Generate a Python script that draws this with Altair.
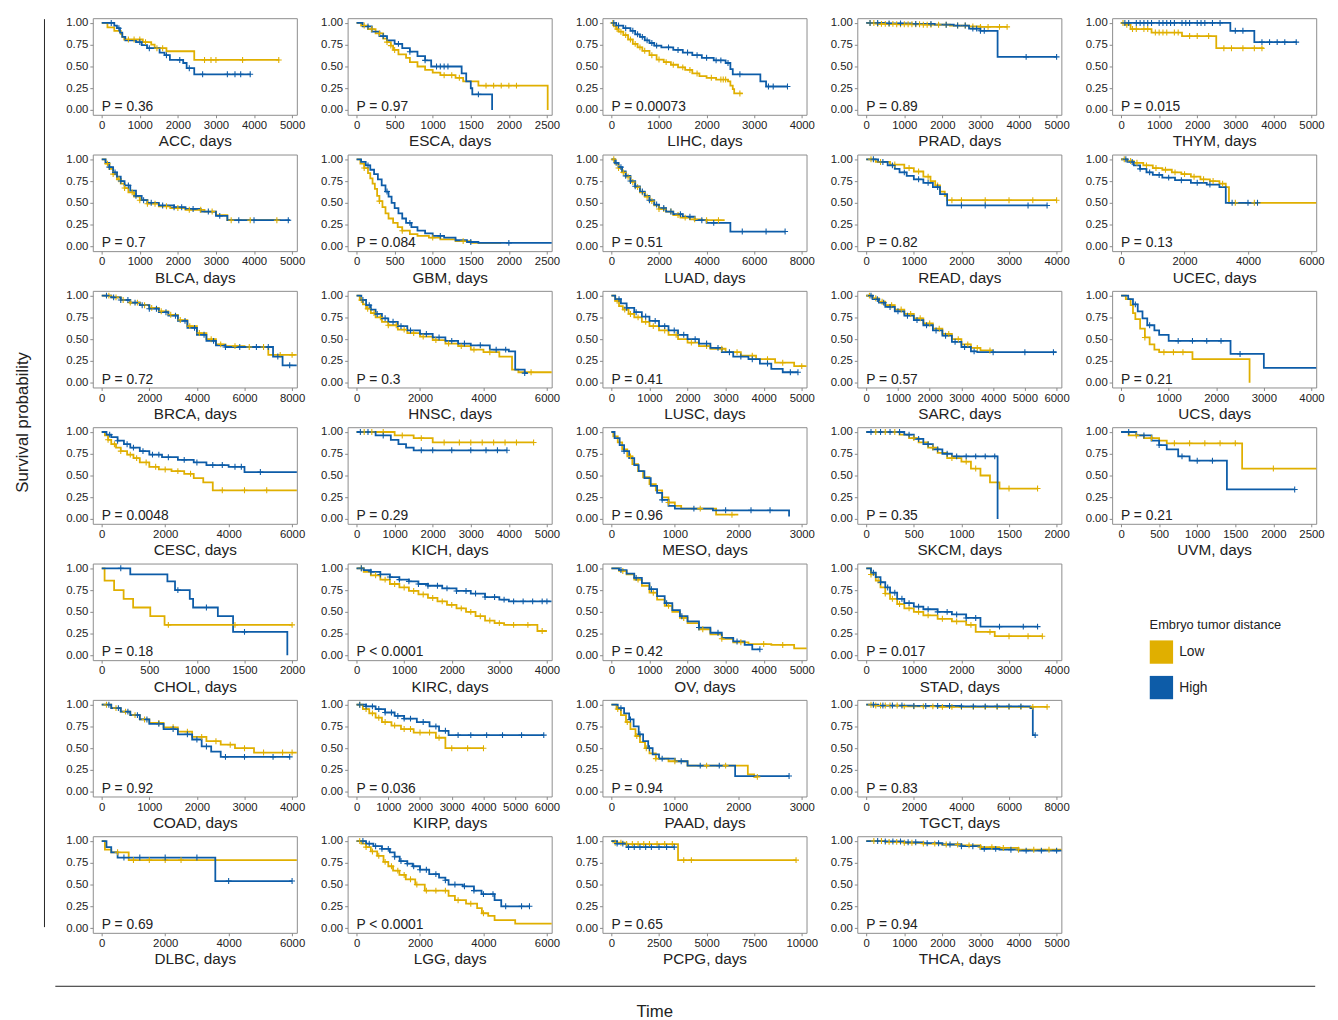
import altair as alt
import pandas as pd

LOW_COLOR = "#E0AF00"
HIGH_COLOR = "#0D5CA8"
GROUPS = ["Low", "High"]
FONT = "Liberation Sans"

# ---- layout of the grid (None = empty slot) ----
GRID = [
    ["ACC", "ESCA", "LIHC", "PRAD", "THYM"],
    ["BLCA", "GBM", "LUAD", "READ", "UCEC"],
    ["BRCA", "HNSC", "LUSC", "SARC", "UCS"],
    ["CESC", "KICH", "MESO", "SKCM", "UVM"],
    ["CHOL", "KIRC", "OV", "STAD", None],
    ["COAD", "KIRP", "PAAD", "TGCT", None],
    ["DLBC", "LGG", "PCPG", "THCA"],
]

P_TEXT = {
    "ACC": "P = 0.36", "ESCA": "P = 0.97", "LIHC": "P = 0.00073", "PRAD": "P = 0.89", "THYM": "P = 0.015",
    "BLCA": "P = 0.7", "GBM": "P = 0.084", "LUAD": "P = 0.51", "READ": "P = 0.82", "UCEC": "P = 0.13",
    "BRCA": "P = 0.72", "HNSC": "P = 0.3", "LUSC": "P = 0.41", "SARC": "P = 0.57", "UCS": "P = 0.21",
    "CESC": "P = 0.0048", "KICH": "P = 0.29", "MESO": "P = 0.96", "SKCM": "P = 0.35", "UVM": "P = 0.21",
    "CHOL": "P = 0.18", "KIRC": "P < 0.0001", "OV": "P = 0.42", "STAD": "P = 0.017",
    "COAD": "P = 0.92", "KIRP": "P = 0.036", "PAAD": "P = 0.94", "TGCT": "P = 0.83",
    "DLBC": "P = 0.69", "LGG": "P < 0.0001", "PCPG": "P = 0.65", "THCA": "P = 0.94",
}

# (last tick, tick step) for each x axis
X_TICKS = {
    "ACC": (5000, 1000), "ESCA": (2500, 500), "LIHC": (4000, 1000), "PRAD": (5000, 1000), "THYM": (5000, 1000),
    "BLCA": (5000, 1000), "GBM": (2500, 500), "LUAD": (8000, 2000), "READ": (4000, 1000), "UCEC": (6000, 2000),
    "BRCA": (8000, 2000), "HNSC": (6000, 2000), "LUSC": (5000, 1000), "SARC": (6000, 1000), "UCS": (4000, 1000),
    "CESC": (6000, 2000), "KICH": (5000, 1000), "MESO": (3000, 1000), "SKCM": (2000, 500), "UVM": (2500, 500),
    "CHOL": (2000, 500), "KIRC": (4000, 1000), "OV": (5000, 1000), "STAD": (4000, 1000),
    "COAD": (4000, 1000), "KIRP": (6000, 1000), "PAAD": (3000, 1000), "TGCT": (8000, 2000),
    "DLBC": (6000, 2000), "LGG": (6000, 2000), "PCPG": (10000, 2500), "THCA": (5000, 1000),
}
Y_TICKS = [0, 0.25, 0.5, 0.75, 1.0]

# ---- Kaplan-Meier step curves: (time, survival) ; censor times ----
ACC_LOW = [(0,1),(150,0.95),(330,0.91),(500,0.875),(540,0.84),(590,0.81),(1080,0.78),(1300,0.75),(1390,0.71),(1700,0.675),(2430,0.575),(4660,0.575)]
ACC_HIGH = [(0,1),(330,0.97),(400,0.94),(480,0.89),(540,0.84),(620,0.80),(900,0.78),(1050,0.745),(1190,0.71),(1520,0.66),(1650,0.63),(1790,0.575),(2140,0.54),(2230,0.48),(2430,0.41),(3910,0.41)]
ACC_LOW_C = [700,850,1000,1150,1450,1600,2700,2870,3000,3700,4650]
ACC_HIGH_C = [250,450,1000,1250,1700,2050,2300,2650,3300,3500,3650,3900]

ESCA_LOW = [(0,1),(60,0.97),(150,0.93),(250,0.88),(350,0.82),(400,0.78),(450,0.74),(480,0.69),(550,0.64),(650,0.6),(700,0.55),(800,0.5),(900,0.46),(1000,0.43),(1100,0.4),(1300,0.37),(1400,0.33),(1600,0.28),(2510,0.0)]
ESCA_HIGH = [(0,1),(80,0.96),(200,0.9),(300,0.85),(400,0.8),(500,0.76),(600,0.71),(700,0.67),(800,0.62),(900,0.57),(980,0.5),(1380,0.42),(1440,0.33),(1500,0.25),(1520,0.18),(1780,0.0)]
ESCA_LOW_C = [100,200,300,400,450,500,1150,1250,1350,1700,1800,1900,2000,2100]
ESCA_HIGH_C = [150,350,550,700,900,1050,1100,1150,1200,1600]

LIHC_LOW = [(0,1),(50,0.96),(100,0.93),(150,0.9),(250,0.86),(350,0.81),(450,0.76),(550,0.72),(650,0.68),(800,0.63),(950,0.58),(1100,0.55),(1250,0.52),(1400,0.49),(1550,0.46),(1700,0.42),(1850,0.39),(2000,0.37),(2200,0.35),(2450,0.33),(2500,0.28),(2550,0.24),(2580,0.19),(2760,0.19)]
LIHC_HIGH = [(0,1),(100,0.97),(250,0.94),(400,0.91),(500,0.87),(600,0.84),(700,0.8),(800,0.77),(900,0.74),(1050,0.72),(1300,0.69),(1500,0.66),(1700,0.63),(1900,0.6),(2150,0.57),(2400,0.54),(2500,0.47),(2550,0.41),(3130,0.33),(3250,0.27),(3700,0.27)]
LIHC_LOW_C = [30,120,200,300,400,500,600,700,850,1000,1150,1300,1500,1650,1800,2100,2300,2350,2400,2700]
LIHC_HIGH_C = [50,150,300,450,550,650,750,850,950,1200,1400,1600,1800,2000,2200,2300,2450,2700,3300,3400,3700]

PRAD_LOW = [(0,1),(300,0.99),(800,0.985),(1500,0.98),(2200,0.97),(2700,0.96),(3000,0.955),(3700,0.955)]
PRAD_HIGH = [(0,1),(500,0.995),(1200,0.99),(1800,0.98),(2300,0.97),(2700,0.935),(3000,0.91),(3450,0.61),(5000,0.61)]
PRAD_LOW_C = [100,200,300,400,500,600,700,800,900,1000,1100,1200,1300,1400,1500,1600,1700,1900,2100,2400,2600,2800,3000,3200,3500,3700]
PRAD_HIGH_C = [100,300,600,900,1300,1700,2100,2400,2600,2800,2900,3000,3100,4200,5000]

THYM_LOW = [(0,1),(100,0.98),(250,0.93),(800,0.89),(1600,0.85),(2500,0.71),(3750,0.71)]
THYM_HIGH = [(0,1),(2870,0.91),(3500,0.78),(4620,0.78)]
THYM_LOW_C = [50,150,300,400,600,700,900,1000,1100,1200,1400,1500,1800,2000,2300,2700,2900,3200,3500,3700]
THYM_HIGH_C = [100,200,400,500,600,700,800,1000,1100,1200,1300,1400,1600,1700,1800,2000,2100,2200,2400,2600,3000,3200,3700,3900,4100,4300,4600]

BLCA_LOW = [(0,1),(100,0.95),(200,0.89),(300,0.83),(400,0.77),(500,0.72),(600,0.67),(700,0.62),(850,0.57),(1000,0.53),(1200,0.49),(1500,0.46),(1800,0.44),(2200,0.42),(2700,0.40),(3000,0.36),(3300,0.3),(4700,0.3)]
BLCA_HIGH = [(0,1),(100,0.96),(200,0.91),(300,0.85),(400,0.8),(500,0.75),(600,0.7),(750,0.64),(900,0.58),(1050,0.53),(1200,0.5),(1500,0.47),(1900,0.45),(2200,0.43),(2600,0.4),(3000,0.35),(3300,0.3),(4950,0.3)]
BLCA_LOW_C = [150,300,450,600,800,1000,1200,1400,1700,2000,2300,2600,2900,3400,3900,4600]
BLCA_HIGH_C = [200,350,500,700,900,1100,1300,1600,1900,2100,2400,2800,3100,3600,4000,4900]

GBM_LOW = [(0,1),(50,0.95),(100,0.9),(150,0.84),(180,0.78),(210,0.72),(240,0.66),(270,0.58),(300,0.52),(340,0.45),(380,0.38),(420,0.32),(480,0.27),(540,0.22),(600,0.18),(700,0.14),(800,0.12),(950,0.1),(1100,0.08),(1300,0.06),(1500,0.04),(1900,0.04)]
GBM_HIGH = [(0,1),(60,0.97),(120,0.93),(180,0.88),(230,0.83),(280,0.77),(330,0.7),(380,0.63),(420,0.57),(460,0.5),(500,0.44),(550,0.38),(600,0.32),(650,0.27),(720,0.22),(800,0.18),(900,0.15),(1000,0.12),(1150,0.1),(1300,0.07),(1450,0.05),(1600,0.04),(2600,0.04)]
GBM_LOW_C = [100,300,600,1000,1400]
GBM_HIGH_C = [150,400,700,1100,1500,2000]

LUAD_LOW = [(0,1),(150,0.95),(300,0.9),(450,0.85),(600,0.8),(800,0.74),(1000,0.68),(1200,0.62),(1400,0.57),(1600,0.52),(1800,0.47),(2000,0.43),(2300,0.4),(2600,0.36),(2900,0.33),(3300,0.31),(3800,0.3),(4760,0.3)]
LUAD_HIGH = [(0,1),(150,0.96),(300,0.91),(450,0.86),(600,0.81),(800,0.75),(1000,0.69),(1200,0.63),(1400,0.58),(1600,0.53),(1800,0.48),(2000,0.44),(2300,0.4),(2600,0.37),(3000,0.34),(3500,0.3),(4000,0.27),(5000,0.17),(7300,0.17)]
LUAD_LOW_C = [100,300,500,700,900,1100,1300,1500,1700,2000,2200,2500,2800,3100,3500,4000,4500]
LUAD_HIGH_C = [200,400,600,800,1000,1300,1600,1900,2200,2500,2900,3300,3800,4300,5500,6500,7300]

READ_LOW = [(0,1),(200,0.97),(500,0.94),(800,0.9),(1000,0.86),(1200,0.8),(1350,0.75),(1450,0.7),(1550,0.63),(1650,0.58),(1700,0.53),(4000,0.53)]
READ_HIGH = [(0,1),(250,0.97),(450,0.93),(600,0.89),(700,0.85),(850,0.81),(1000,0.77),(1200,0.73),(1400,0.68),(1550,0.6),(1700,0.47),(3800,0.47)]
READ_LOW_C = [100,300,600,900,1100,1300,1500,1800,2000,2500,3000,3500,4000]
READ_HIGH_C = [150,350,550,800,1100,1300,1500,2000,2500,3400,3800]

UCEC_LOW = [(0,1),(200,0.98),(400,0.96),(700,0.93),(1000,0.9),(1300,0.88),(1600,0.85),(1900,0.83),(2200,0.8),(2500,0.77),(2800,0.75),(3100,0.72),(3300,0.68),(3400,0.5),(6200,0.5)]
UCEC_HIGH = [(0,1),(200,0.97),(400,0.93),(600,0.89),(800,0.85),(1000,0.82),(1300,0.79),(1700,0.76),(2200,0.73),(2700,0.71),(3100,0.68),(3300,0.5),(4300,0.5)]
UCEC_LOW_C = [100,300,500,800,1100,1400,1700,2000,2300,2600,2900,3200,3600,4200]
UCEC_HIGH_C = [150,350,600,900,1200,1500,1900,2400,2800,3500,4000,4300]

BRCA_LOW = [(0,1),(400,0.98),(800,0.95),(1200,0.92),(1600,0.89),(2000,0.86),(2400,0.82),(2800,0.78),(3200,0.72),(3600,0.65),(4000,0.57),(4400,0.5),(4800,0.44),(5200,0.42),(6000,0.41),(7000,0.32),(8200,0.32)]
BRCA_HIGH = [(0,1),(400,0.98),(800,0.95),(1200,0.92),(1600,0.89),(2000,0.85),(2400,0.81),(2800,0.77),(3200,0.71),(3600,0.63),(4000,0.55),(4400,0.48),(4800,0.43),(5200,0.41),(7100,0.41),(7200,0.3),(7600,0.2),(8200,0.2)]
BRCA_LOW_C = [300,600,900,1200,1500,1800,2100,2500,2900,3300,3700,4100,4600,5000,5600,6200,6800,7500,8000]
BRCA_HIGH_C = [200,500,800,1100,1400,1700,2000,2300,2700,3100,3500,3900,4300,4700,5200,5800,6500,7000,7400,7900]

HNSC_LOW = [(0,1),(100,0.95),(200,0.9),(300,0.85),(450,0.8),(600,0.75),(800,0.7),(1000,0.66),(1300,0.61),(1600,0.57),(2000,0.53),(2400,0.49),(2800,0.45),(3200,0.42),(3600,0.38),(4000,0.35),(4500,0.3),(4900,0.15),(5100,0.12),(6200,0.12)]
HNSC_HIGH = [(0,1),(150,0.95),(300,0.89),(450,0.84),(600,0.79),(800,0.74),(1000,0.7),(1300,0.65),(1600,0.6),(2000,0.56),(2400,0.52),(2800,0.48),(3200,0.45),(3600,0.43),(4200,0.38),(4800,0.36),(5000,0.15),(5300,0.11),(5400,0.11)]
HNSC_LOW_C = [150,350,550,750,1000,1250,1500,1800,2100,2500,2900,3300,3700,4200,5500]
HNSC_HIGH_C = [200,400,650,900,1150,1400,1700,2200,2600,3000,3400,3900,4400,4700,5300]

LUSC_LOW = [(0,1),(100,0.94),(200,0.88),(300,0.84),(450,0.79),(600,0.75),(800,0.7),(1000,0.65),(1250,0.6),(1500,0.55),(1750,0.5),(2000,0.46),(2300,0.42),(2600,0.39),(3000,0.35),(3400,0.31),(3800,0.27),(4300,0.23),(4800,0.19),(5300,0.19)]
LUSC_HIGH = [(0,1),(100,0.96),(250,0.91),(400,0.86),(600,0.81),(800,0.76),(1000,0.71),(1250,0.65),(1500,0.6),(1750,0.55),(2000,0.5),(2300,0.45),(2600,0.4),(2900,0.35),(3200,0.3),(3600,0.27),(3900,0.22),(4200,0.16),(4500,0.12),(4900,0.12)]
LUSC_LOW_C = [150,350,500,700,900,1100,1400,1700,2100,2500,2900,3300,3700,4100,4500,5000]
LUSC_HIGH_C = [200,400,650,900,1150,1400,1650,1900,2200,2500,2800,3100,3400,3700,4100,4700,4900]

SARC_LOW = [(0,1),(200,0.97),(400,0.93),(600,0.89),(900,0.84),(1200,0.79),(1500,0.74),(1800,0.68),(2100,0.62),(2400,0.56),(2700,0.5),(3000,0.44),(3300,0.4),(3600,0.37),(4000,0.37)]
SARC_HIGH = [(0,1),(200,0.96),(400,0.92),(600,0.87),(900,0.82),(1200,0.77),(1500,0.72),(1800,0.66),(2100,0.6),(2400,0.54),(2700,0.47),(3000,0.41),(3300,0.36),(3500,0.35),(6000,0.35)]
SARC_LOW_C = [100,300,500,800,1100,1400,1700,2000,2300,2600,2900,3200,3500,3900]
SARC_HIGH_C = [150,350,550,750,1000,1300,1600,1900,2200,2500,2800,3100,3400,4000,5000,5900]

UCS_LOW = [(0,1),(100,0.96),(200,0.89),(250,0.8),(300,0.73),(400,0.62),(500,0.52),(600,0.44),(700,0.38),(800,0.35),(1500,0.27),(2700,0.0)]
UCS_HIGH = [(0,1),(150,0.96),(250,0.9),(350,0.82),(450,0.74),(550,0.66),(700,0.6),(800,0.55),(1000,0.48),(2300,0.33),(3000,0.17),(4200,0.17)]
UCS_LOW_C = [500,900,1100,1300]
UCS_HIGH_C = [300,600,1200,1500,1800,2100,2500]

CESC_LOW = [(0,1),(100,0.96),(200,0.91),(300,0.86),(450,0.82),(600,0.78),(800,0.74),(1000,0.7),(1200,0.65),(1500,0.6),(1800,0.57),(2200,0.55),(2600,0.52),(2900,0.47),(3200,0.42),(3500,0.33),(6200,0.33)]
CESC_HIGH = [(0,1),(150,0.97),(300,0.94),(500,0.9),(700,0.86),(900,0.82),(1200,0.78),(1500,0.74),(1900,0.71),(2400,0.68),(2900,0.65),(3300,0.62),(4000,0.6),(4500,0.54),(6200,0.54)]
CESC_LOW_C = [200,400,600,900,1100,1400,1700,2000,2400,2800,3800,4500,5200]
CESC_HIGH_C = [250,500,800,1000,1300,1600,1800,2100,2600,3000,3500,3800,4200,4400,5000]

KICH_LOW = [(0,1),(1000,0.96),(1500,0.93),(2000,0.88),(4650,0.88)]
KICH_HIGH = [(0,1),(500,0.96),(900,0.91),(1100,0.86),(1300,0.82),(1500,0.79),(3950,0.79)]
KICH_LOW_C = [200,400,700,1200,1700,2300,2700,3000,3300,3600,3900,4200,4650]
KICH_HIGH_C = [100,300,700,1700,2000,2500,3000,3400,3700,3950]

MESO_LOW = [(0,1),(30,0.95),(100,0.88),(170,0.8),(250,0.72),(330,0.63),(420,0.55),(500,0.48),(600,0.4),(700,0.33),(800,0.25),(900,0.19),(1000,0.15),(1100,0.12),(1650,0.05),(2000,0.05)]
MESO_HIGH = [(0,1),(50,0.93),(130,0.85),(200,0.78),(280,0.7),(360,0.62),(430,0.55),(520,0.47),(620,0.38),(720,0.3),(800,0.22),(900,0.15),(1000,0.12),(1600,0.1),(2500,0.1),(2800,0.03)]
MESO_LOW_C = [300,900,1400,1900]
MESO_HIGH_C = [200,800,1300,1800,2200,2500]

SKCM_LOW = [(0,1),(350,0.97),(450,0.93),(550,0.88),(650,0.82),(750,0.76),(850,0.7),(1000,0.66),(1100,0.58),(1200,0.5),(1300,0.42),(1400,0.35),(1800,0.35)]
SKCM_HIGH = [(0,1),(400,0.97),(500,0.92),(600,0.86),(700,0.8),(800,0.75),(900,0.72),(1380,0.0)]
SKCM_LOW_C = [100,200,300,500,700,900,1050,1150,1500,1800]
SKCM_HIGH_C = [50,150,250,350,450,550,650,750,850,950,1050,1150,1250,1350]

UVM_LOW = [(0,1),(100,0.96),(300,0.93),(500,0.9),(600,0.87),(1590,0.58),(2600,0.58)]
UVM_HIGH = [(0,1),(200,0.96),(400,0.9),(500,0.85),(600,0.8),(750,0.72),(900,0.67),(1390,0.34),(2280,0.34)]
UVM_LOW_C = [200,400,700,900,1100,1300,1500,2000,2600]
UVM_HIGH_C = [100,300,500,800,1000,1200,2280]

CHOL_LOW = [(0,1),(30,0.86),(130,0.75),(230,0.65),(330,0.55),(510,0.45),(660,0.35),(2000,0.35)]
CHOL_HIGH = [(0,1),(300,0.93),(690,0.85),(770,0.75),(925,0.65),(960,0.55),(1220,0.45),(1380,0.27),(1950,0.0)]
CHOL_LOW_C = [700,1400,2000]
CHOL_HIGH_C = [200,800,1100,1500]

KIRC_LOW = [(0,1),(150,0.96),(300,0.92),(500,0.87),(700,0.82),(900,0.78),(1100,0.74),(1300,0.7),(1500,0.66),(1700,0.62),(1900,0.58),(2100,0.54),(2300,0.5),(2500,0.45),(2700,0.4),(2900,0.37),(3100,0.35),(3800,0.28),(4000,0.28)]
KIRC_HIGH = [(0,1),(150,0.98),(300,0.96),(500,0.93),(700,0.9),(900,0.87),(1100,0.85),(1300,0.82),(1500,0.8),(1800,0.77),(2100,0.74),(2400,0.71),(2700,0.67),(3000,0.64),(3200,0.62),(4100,0.62)]
KIRC_LOW_C = [100,400,600,800,1000,1200,1400,1600,1800,2000,2200,2400,2600,2800,3000,3300,3600,3900]
KIRC_HIGH_C = [100,300,500,700,900,1100,1300,1500,1700,1900,2100,2300,2500,2700,2900,3100,3300,3500,3700,3900,4000]

OV_LOW = [(0,1),(200,0.97),(400,0.93),(600,0.87),(800,0.8),(1000,0.72),(1200,0.64),(1400,0.57),(1600,0.5),(1800,0.43),(2000,0.37),(2300,0.3),(2600,0.24),(2900,0.19),(3200,0.15),(3600,0.13),(4200,0.12),(4800,0.08),(5300,0.08)]
OV_HIGH = [(0,1),(200,0.98),(400,0.94),(600,0.89),(800,0.83),(1000,0.76),(1200,0.68),(1400,0.6),(1600,0.52),(1800,0.45),(2000,0.39),(2300,0.32),(2600,0.26),(2900,0.2),(3200,0.16),(3500,0.12),(3700,0.07),(3900,0.07)]
OV_LOW_C = [300,700,1100,1500,1900,2400,2900,3400,4000,4500,5200]
OV_HIGH_C = [250,650,1050,1450,1850,2300,2800,3300,3900]

STAD_LOW = [(0,1),(100,0.93),(200,0.86),(300,0.78),(400,0.71),(500,0.65),(650,0.59),(800,0.54),(1000,0.5),(1200,0.46),(1500,0.42),(1800,0.39),(2100,0.35),(2300,0.27),(2700,0.22),(3700,0.22)]
STAD_HIGH = [(0,1),(100,0.95),(200,0.9),(300,0.84),(400,0.78),(500,0.72),(650,0.65),(800,0.6),(1000,0.56),(1200,0.53),(1500,0.5),(1800,0.47),(2100,0.43),(2400,0.33),(3600,0.33)]
STAD_LOW_C = [100,250,400,550,700,900,1100,1300,1600,1900,2200,2600,3000,3400,3700]
STAD_HIGH_C = [150,300,450,600,750,900,1100,1300,1500,1700,1900,2100,2300,2800,3300,3600]

COAD_LOW = [(0,1),(200,0.96),(400,0.92),(600,0.88),(800,0.83),(1000,0.79),(1300,0.74),(1600,0.69),(1900,0.63),(2200,0.58),(2500,0.54),(2800,0.5),(3200,0.45),(4100,0.45)]
COAD_HIGH = [(0,1),(200,0.96),(400,0.92),(600,0.88),(800,0.83),(1000,0.78),(1300,0.72),(1600,0.66),(1900,0.6),(2100,0.52),(2300,0.46),(2500,0.4),(3950,0.4)]
COAD_LOW_C = [100,300,500,700,900,1200,1500,1800,2100,2400,2700,3000,3400,3800,4000]
COAD_HIGH_C = [150,350,550,750,950,1200,1500,1800,2000,2200,2600,3000,3600,3950]

KIRP_LOW = [(0,1),(200,0.95),(400,0.9),(600,0.85),(800,0.8),(1100,0.76),(1400,0.72),(1800,0.68),(2500,0.62),(2800,0.5),(4000,0.5)]
KIRP_HIGH = [(0,1),(300,0.98),(600,0.95),(900,0.91),(1200,0.87),(1500,0.84),(1900,0.8),(2300,0.75),(2600,0.7),(2900,0.65),(5900,0.65)]
KIRP_LOW_C = [100,300,500,700,900,1200,1500,1700,2000,2300,2600,3000,3500,4000]
KIRP_HIGH_C = [100,300,500,700,900,1100,1300,1500,1700,2100,2500,2800,3200,3600,4100,4600,5200,5900]

PAAD_LOW = [(0,1),(80,0.95),(150,0.88),(230,0.8),(300,0.72),(380,0.64),(450,0.57),(530,0.5),(600,0.44),(700,0.38),(900,0.35),(1200,0.3),(2150,0.2),(2250,0.17),(2300,0.17)]
PAAD_HIGH = [(0,1),(100,0.96),(200,0.9),(280,0.83),(350,0.75),(430,0.66),(500,0.58),(580,0.5),(650,0.43),(750,0.38),(1000,0.35),(1200,0.3),(1950,0.18),(2800,0.18)]
PAAD_LOW_C = [100,250,400,550,700,1000,1500,1800,2300]
PAAD_HIGH_C = [150,300,450,600,800,1100,1400,1700,2800]

TGCT_LOW = [(0,1),(300,0.99),(1500,0.98),(3000,0.975),(7600,0.975)]
TGCT_HIGH = [(0,1),(500,0.99),(2000,0.985),(4000,0.98),(6900,0.96),(7000,0.65),(7100,0.65)]
TGCT_LOW_C = [200,400,600,800,1000,1300,1600,2000,2400,2800,3200,3600,4000,4500,5000,5500,6000,6500,7000,7600]
TGCT_HIGH_C = [300,700,1100,1500,2000,2500,3000,3500,4000,4500,5000,5500,6000,6500,7100]

DLBC_LOW = [(0,1),(100,0.9),(300,0.87),(850,0.78),(6200,0.78)]
DLBC_HIGH = [(0,1),(150,0.93),(300,0.87),(500,0.81),(3580,0.54),(6000,0.54)]
DLBC_LOW_C = [500,1000,1500,2000,2500]
DLBC_HIGH_C = [700,1200,2000,3000,4000,6000]

LGG_LOW = [(0,1),(150,0.97),(300,0.93),(450,0.88),(650,0.83),(850,0.76),(1000,0.71),(1150,0.66),(1350,0.61),(1550,0.56),(1850,0.5),(2150,0.43),(2900,0.37),(3100,0.32),(3450,0.28),(3800,0.23),(3950,0.17),(4150,0.14),(4350,0.09),(5000,0.05),(6300,0.05)]
LGG_HIGH = [(0,1),(300,0.97),(530,0.94),(800,0.91),(1050,0.87),(1200,0.82),(1360,0.77),(1600,0.74),(1770,0.71),(2000,0.67),(2290,0.62),(2600,0.58),(2800,0.55),(2900,0.5),(3350,0.48),(3700,0.43),(3940,0.39),(4350,0.32),(4560,0.25),(5450,0.25)]
LGG_LOW_C = [100,300,500,700,900,1100,1300,1500,1700,1900,2200,2500,2800,3200,3600,4000]
LGG_HIGH_C = [200,400,600,800,1000,1200,1400,1600,1800,2000,2200,2500,2800,3100,3400,3700,4000,4300,4700,5200,5450]

PCPG_LOW = [(0,1),(200,0.98),(700,0.965),(3500,0.78),(9700,0.78)]
PCPG_HIGH = [(0,1),(300,0.97),(800,0.93),(3300,0.93)]
PCPG_LOW_C = [200,500,800,1100,1400,1700,2000,2400,2800,3200,3800,4200,9700]
PCPG_HIGH_C = [300,600,900,1200,1500,1800,2100,2500,2900,3300]

THCA_LOW = [(0,1),(500,0.99),(1000,0.98),(1500,0.97),(2000,0.96),(2500,0.95),(3000,0.93),(3500,0.92),(4000,0.9),(5200,0.9)]
THCA_HIGH = [(0,1),(500,0.995),(1000,0.985),(1500,0.975),(2000,0.96),(2500,0.94),(3000,0.91),(3500,0.9),(4000,0.89),(5200,0.89)]
THCA_LOW_C = [200,400,600,800,1000,1200,1500,1800,2100,2400,2700,3000,3300,3600,4000,4400,4800,5200]
THCA_HIGH_C = [300,500,700,900,1100,1300,1600,1900,2200,2500,2800,3100,3400,3800,4200,4600,5000]

PANEL_W = 207
PANEL_H = 98

COLOR_SCALE = alt.Scale(domain=GROUPS, range=[LOW_COLOR, HIGH_COLOR])
LEGEND = alt.Legend(
    title="Embryo tumor distance", orient="none", legendX=1148, legendY=610,
    symbolType="square", symbolSize=560, symbolStrokeWidth=0, symbolOpacity=1,
    titleFontSize=13, titleFontWeight="normal", titleColor="#222",
    titleFont=FONT, labelFont=FONT, labelFontSize=14, labelColor="#222",
    rowPadding=12, titlePadding=8, labelOffset=6)


def surv_at(curve, t):
    s = curve[0][1]
    for ct, cs in curve:
        if ct <= t:
            s = cs
    return s


def panel(name, with_legend):
    low = globals()[name + "_LOW"]
    high = globals()[name + "_HIGH"]
    low_c = globals()[name + "_LOW_C"]
    high_c = globals()[name + "_HIGH_C"]
    xmax, xstep = X_TICKS[name]
    xvals = list(range(0, xmax + 1, xstep))

    line_rows = [{"t": t, "s": s, "g": "Low"} for t, s in low] + \
                [{"t": t, "s": s, "g": "High"} for t, s in high]
    cens_rows = [{"t": t, "s": surv_at(low, t), "g": "Low"} for t in low_c] + \
                [{"t": t, "s": surv_at(high, t), "g": "High"} for t in high_c]
    line_df = pd.DataFrame(line_rows)
    cens_df = pd.DataFrame(cens_rows)
    txt_df = pd.DataFrame({"t": [0], "s": [0], "label": [P_TEXT[name]]})

    x_axis = alt.Axis(values=xvals, tickCount=len(xvals), format="d", labelOverlap=False,
                      labelFlush=False, labelBound=False, title=f"{name}, days")
    y_axis = alt.Axis(values=Y_TICKS, tickCount=len(Y_TICKS), format=".2f", labelOverlap=False,
                      labelFlush=False, labelBound=False, title=None)
    x = alt.X("t:Q", scale=alt.Scale(domain=[-0.047 * xmax, 1.025 * xmax], nice=False, zero=False),
              axis=x_axis)
    y = alt.Y("s:Q", scale=alt.Scale(domain=[-0.055, 1.055], nice=False, zero=False),
              axis=y_axis)

    lines = alt.Chart(line_df).mark_line(interpolate="step-after", strokeWidth=1.8, clip=True).encode(
        x=x, y=y, color=alt.Color("g:N", scale=COLOR_SCALE, legend=None), detail="g:N")
    cens = alt.Chart(cens_df).mark_point(
        shape="M-1,0L1,0M0,-1L0,1", filled=False, size=36, strokeWidth=1.1, opacity=1, clip=True
    ).encode(x=x, y=y, color=alt.Color("g:N", scale=COLOR_SCALE, legend=None))
    txt = alt.Chart(txt_df).mark_text(align="left", baseline="alphabetic", fontSize=14,
                                      font=FONT, color="#222", dy=1).encode(
        x=x, y=y, text="label:N")
    layers = [lines, cens, txt]
    if with_legend:
        # legend key only: squares placed far outside the axis domain (clipped away)
        key_df = pd.DataFrame({"t": [-1e9, -1e9], "s": [0.5, 0.5], "g": GROUPS})
        key = alt.Chart(key_df).mark_square(filled=True, opacity=1, clip=True).encode(
            x=x, y=y, color=alt.Color("g:N", scale=COLOR_SCALE, legend=LEGEND))
        layers = [key] + layers
    return alt.layer(*layers).properties(width=PANEL_W, height=PANEL_H)


def blank():
    df = pd.DataFrame({"a": [0]})
    return alt.Chart(df).mark_point(opacity=0).encode(
        x=alt.X("a:Q", axis=None), y=alt.Y("a:Q", axis=None)
    ).properties(width=PANEL_W, height=PANEL_H, view=alt.ViewBackground(stroke="transparent"))


cells = []
first = True
for row in GRID:
    for name in row:
        if name:
            cells.append(panel(name, first))
            first = False
        else:
            cells.append(blank())

grid = alt.concat(*cells, columns=5, spacing={"row": 40.3, "column": 51.5}, bounds="flush")

deco_df = pd.DataFrame({"label": ["Survival probability"]})
left_text = alt.Chart(deco_df).mark_text(angle=270, fontSize=17, font=FONT, color="#222").encode(
    text="label:N", x=alt.value(5), y=alt.value(410))
left_rule = alt.Chart(deco_df).mark_rule(color="#222", strokeWidth=1).encode(
    x=alt.value(27), y=alt.value(1), y2=alt.value(922))
left = alt.layer(left_rule, left_text).properties(
    width=30, height=922, view=alt.ViewBackground(stroke="transparent"))

time_df = pd.DataFrame({"label": ["Time"]})
bottom_rule = alt.Chart(time_df).mark_rule(color="#222", strokeWidth=1).encode(
    x=alt.value(38), x2=alt.value(1316), y=alt.value(13))
bottom_text = alt.Chart(time_df).mark_text(fontSize=17, font=FONT, color="#222").encode(
    text="label:N", x=alt.value(646), y=alt.value(39))
bottom = alt.layer(bottom_rule, bottom_text).properties(
    width=1310, height=30, view=alt.ViewBackground(stroke="transparent"))

top = alt.hconcat(left, grid, spacing=17)
chart = alt.vconcat(top, bottom, spacing=4).properties(
    padding={"left": 5, "top": 1, "right": 5, "bottom": 0}
).configure_view(stroke="#8c8c8c", strokeWidth=1).configure_axis(
    labelFont=FONT, labelFontSize=11.5, labelColor="#222", labelPadding=2,
    labelOverlap=False, labelFlush=False,
    tickColor="#888", tickSize=3, domain=False, grid=False,
    titleFont=FONT, titleFontSize=15.5, titleFontWeight="normal", titleColor="#222", titlePadding=3,
)

chart.save("out.html", embed_options={"renderer": "svg", "actions": False})
